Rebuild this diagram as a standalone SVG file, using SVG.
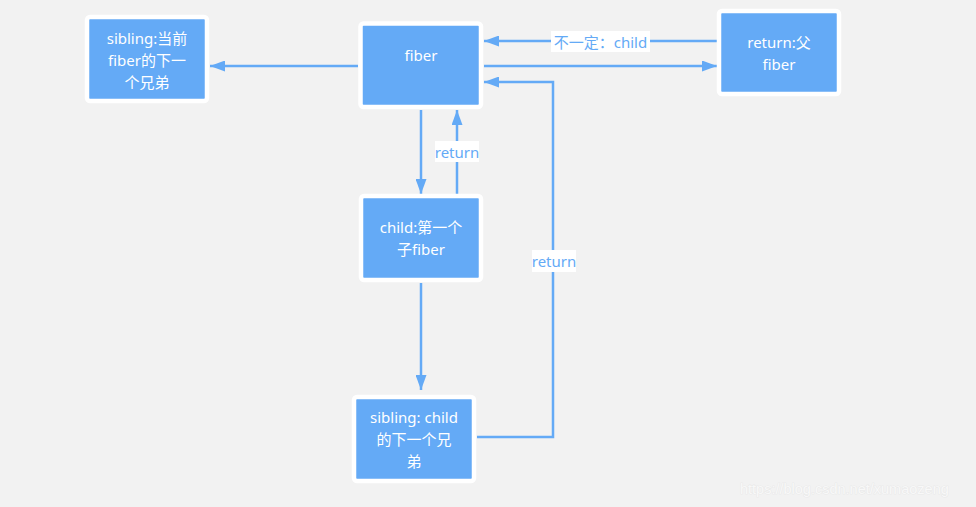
<svg xmlns="http://www.w3.org/2000/svg" width="976" height="507" viewBox="0 0 976 507">
<defs>
<style>
.node rect{fill:#64aaf6;stroke:#ffffff;stroke-width:4.5;}
.node text{fill:#ffffff;font-family:"Noto Sans","Noto Sans CJK SC",sans-serif;font-size:15px;text-anchor:middle;dominant-baseline:central;}
.edge{fill:none;stroke:#64aaf6;stroke-width:2.5;}
.lbl rect{fill:#ffffff;}
.lbl text{fill:#64aaf6;font-family:"Noto Sans","Noto Sans CJK SC",sans-serif;font-size:15px;text-anchor:middle;dominant-baseline:central;}
</style>
<marker id="arr" viewBox="0 0 15 11" refX="15" refY="5.5" markerWidth="15" markerHeight="11" markerUnits="userSpaceOnUse" orient="auto">
<path d="M0,0 L15,5.5 L0,11 Z" fill="#64aaf6"/>
</marker>
</defs>
<rect width="976" height="507" fill="#f2f2f2"/>

<g id="connectors">
<path class="edge" d="M358,66 L210,66" marker-end="url(#arr)"/>
<path class="edge" d="M717,41 L484,41" marker-end="url(#arr)"/>
<path class="edge" d="M484,66 L717,66" marker-end="url(#arr)"/>
<path class="edge" d="M477,437 L553,437 L553,82 L484,82" marker-end="url(#arr)"/>
<path class="edge" d="M421,110 L421,194" marker-end="url(#arr)"/>
<path class="edge" d="M457,194 L457,110" marker-end="url(#arr)"/>
<path class="edge" d="M421,283 L421,390" marker-end="url(#arr)"/>
<g class="lbl"><rect x="551" y="31" width="99" height="21"/><text x="600.5" y="41.5">不一定：child</text></g>
<g class="lbl"><rect x="435" y="141" width="44" height="21"/><text x="457" y="151.5">return</text></g>
<g class="lbl"><rect x="532" y="250" width="44" height="22"/><text x="554" y="261">return</text></g>
</g>

<g id="node-sibling" class="node">
<rect x="87" y="17" width="120" height="84" rx="3"/>
<text x="147" y="38">sibling:当前</text>
<text x="147" y="60">fiber的下一</text>
<text x="147" y="82">个兄弟</text>
</g>
<g id="node-fiber" class="node">
<rect x="360.5" y="23.5" width="120.5" height="83.5" rx="3"/>
<text x="421" y="55">fiber</text>
</g>
<g id="node-return" class="node">
<rect x="719" y="11" width="120" height="83" rx="3"/>
<text x="779" y="42">return:父</text>
<text x="779" y="64">fiber</text>
</g>
<g id="node-child" class="node">
<rect x="361" y="196" width="120" height="84" rx="3"/>
<text x="421" y="227">child:第一个</text>
<text x="421" y="249">子fiber</text>
</g>
<g id="node-sibling-child" class="node">
<rect x="354" y="397" width="120" height="84" rx="3"/>
<text x="414" y="417">sibling: child</text>
<text x="414" y="439">的下一个兄</text>
<text x="414" y="461">弟</text>
</g>

<text x="740" y="489" font-family="Liberation Sans, Arial, sans-serif" font-size="14.5" fill="#f8f8f8" stroke="#e4e4e4" stroke-width="0.6" paint-order="stroke" dominant-baseline="central">https://blog.csdn.net/xumaozeng</text>
</svg>
